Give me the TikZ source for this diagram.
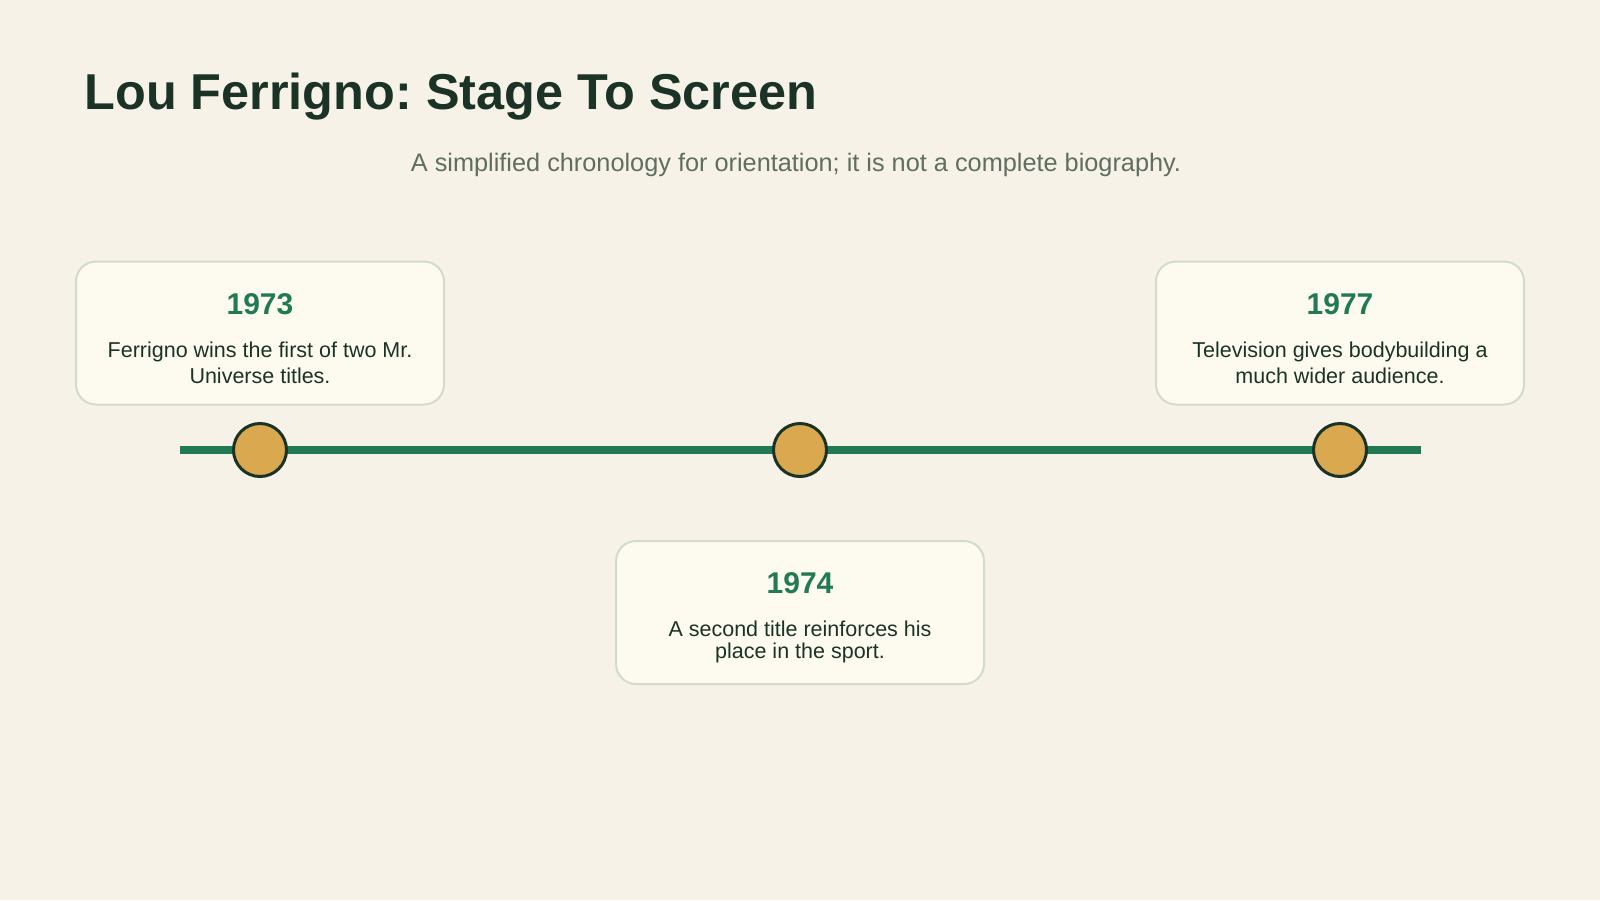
\documentclass[tikz,border=0pt]{standalone}
\usepackage{fontspec}
\setmainfont{Liberation Sans}
\frenchspacing
\definecolor{bg}{HTML}{F6F2E7}
\definecolor{cardfill}{HTML}{FDFAEF}
\definecolor{cardline}{HTML}{D3DBC9}
\definecolor{ink}{HTML}{1B3326}
\definecolor{sub}{HTML}{5F6E60}
\definecolor{green}{HTML}{227A55}
\definecolor{gold}{HTML}{DAA94F}
\tikzset{
  card/.style={draw=cardline, line width=2pt, fill=cardfill, rounded corners=20pt,
    minimum width=368pt, minimum height=143pt, inner sep=0pt},
  yeartext/.style={anchor=base, text=green, font=\fontsize{30}{34}\selectfont\bfseries},
  desctext/.style={anchor=base, text=ink, align=center, font=\fontsize{21.5}{26}\selectfont},
  dot/.style={circle, draw=ink, line width=3pt, fill=gold, minimum size=53pt, inner sep=0pt},
}
\begin{document}
\begin{tikzpicture}[x=1pt,y=-1pt]
\fill[bg] (0,0) rectangle (1600,900);
\useasboundingbox (0,0) rectangle (1600,900);
% title
\node[anchor=base west, text=ink, font=\fontsize{50.4}{60}\selectfont\bfseries] (title) at (81,109) {Lou Ferrigno: Stage To Screen};
\node[anchor=base, text=sub, font=\fontsize{25.3}{30}\selectfont] (subtitle) at (796,171) {A simplified chronology for orientation; it is not a complete biography.};
% timeline
\coordinate (tlstart) at (180,450);
\coordinate (tlend) at (1421,450);
\draw[green, line width=8pt] (tlstart) -- (tlend);
\node[dot] (d1) at (260,450) {};
\node[dot] (d2) at (800,450) {};
\node[dot] (d3) at (1340,450) {};
% cards
\node[card] (c1) at (260,333) {};
\node[yeartext] (y1) at (260,314) {1973};
\node[desctext] (t1) at (260,383) {Ferrigno wins the first of two Mr.\\Universe titles.};
\node[card] (c2) at (800,612.5) {};
\node[yeartext] (y2) at (800,593) {1974};
\node[desctext, font=\fontsize{21.5}{22}\selectfont] (t2) at (800,658) {A second title reinforces his\\place in the sport.};
\node[card] (c3) at (1340,333) {};
\node[yeartext] (y3) at (1340,314) {1977};
\node[desctext] (t3) at (1340,383) {Television gives bodybuilding a\\much wider audience.};
\end{tikzpicture}
\end{document}
